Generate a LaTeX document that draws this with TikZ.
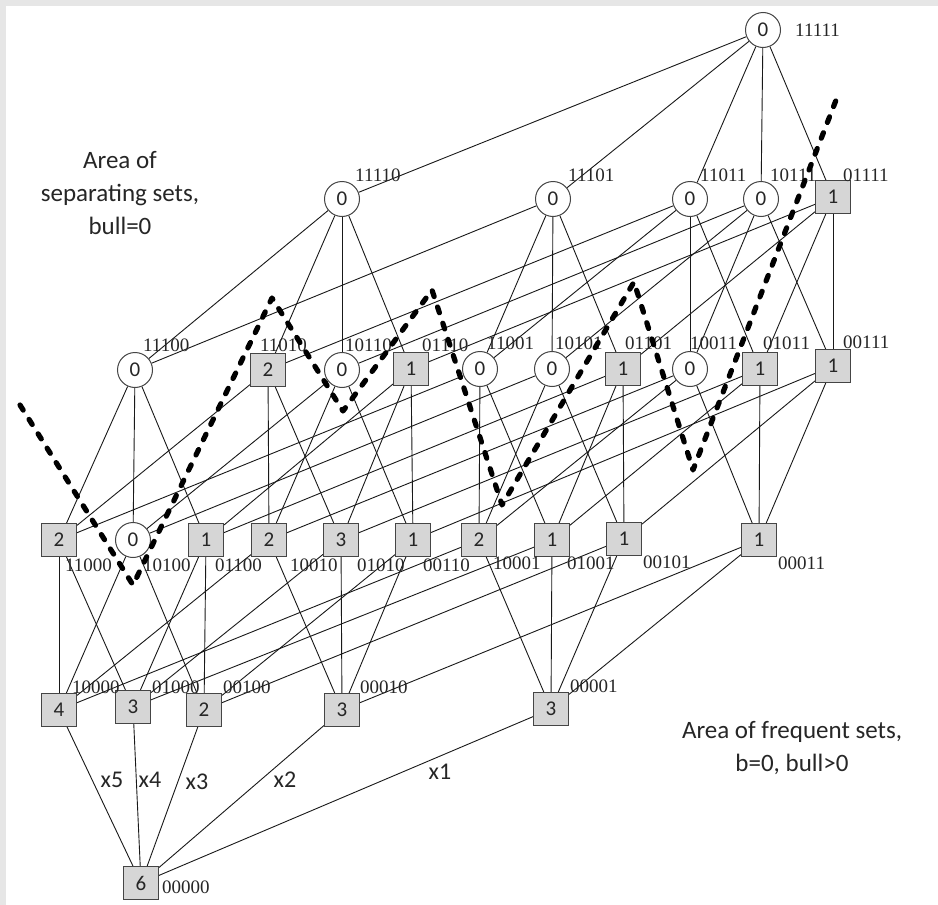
\documentclass[tikz,border=0pt]{standalone}
\usepackage{fontspec}
\setmainfont{Carlito}
\newfontfamily\bitfont{Liberation Serif}
\pgfdeclarelayer{bg}
\pgfdeclarelayer{paper}
\pgfsetlayers{paper,bg,main}
\definecolor{boxfill}{HTML}{D6D6D6}
\definecolor{nodeline}{HTML}{454545}
\definecolor{frame}{HTML}{E6E6E6}
\definecolor{txt}{HTML}{262626}
\tikzset{
  circnode/.style={circle, minimum size=35pt, inner sep=0pt, draw=nodeline, line width=1pt, fill=white, font=\fontsize{21}{21}\selectfont, text=txt},
  boxnode/.style={rectangle, minimum width=35pt, minimum height=33pt, inner sep=0pt, draw=nodeline, line width=1pt, fill=boxfill, font=\fontsize{21}{21}\selectfont, text=txt},
  bitlabel/.style={anchor=west, inner sep=0pt, font=\bitfont\fontsize{19}{19}\selectfont, text=txt},
  edgeline/.style={line width=0.9pt, draw=black!90},
  sepline/.style={line width=5.2pt, dash pattern=on 6pt off 11pt, line cap=round, line join=round},
  xlab/.style={font=\fontsize{24}{24}\selectfont, text=txt, inner sep=0pt},
  areatext/.style={align=center, font=\fontsize{25}{33}\selectfont, text=txt, inner sep=0pt}
}
\begin{document}
\begin{tikzpicture}[x=1pt,y=-1pt]
\useasboundingbox (0,0) rectangle (938,905);
\begin{pgfonlayer}{paper}
\fill[frame] (0,0) rectangle (938,905);
\fill[white] (6,6) rectangle (938,905);
\end{pgfonlayer}
% level 5
\node[circnode] (n11111) at (763,30) {0};
% level 4
\node[circnode] (n11110) at (342,199) {0};
\node[circnode] (n11101) at (553,199) {0};
\node[circnode] (n11011) at (690,199) {0};
\node[circnode] (n10111) at (761,199) {0};
\node[boxnode]  (n01111) at (833,197) {1};
% level 3
\node[circnode] (n11100) at (135,370) {0};
\node[boxnode]  (n11010) at (268,370) {2};
\node[circnode] (n10110) at (342,370) {0};
\node[boxnode]  (n01110) at (411,369) {1};
\node[circnode] (n11001) at (480,369) {0};
\node[circnode] (n10101) at (552,369) {0};
\node[boxnode]  (n01101) at (623,369) {1};
\node[circnode] (n10011) at (690,369) {0};
\node[boxnode]  (n01011) at (760,369) {1};
\node[boxnode]  (n00111) at (833,366) {1};
% level 2
\node[boxnode]  (n11000) at (59,540) {2};
\node[circnode] (n10100) at (133,540) {0};
\node[boxnode]  (n01100) at (206,540) {1};
\node[boxnode]  (n10010) at (269,540) {2};
\node[boxnode]  (n01010) at (341,540) {3};
\node[boxnode]  (n00110) at (413,540) {1};
\node[boxnode]  (n10001) at (479,540) {2};
\node[boxnode]  (n01001) at (552,540) {1};
\node[boxnode]  (n00101) at (624,539) {1};
\node[boxnode]  (n00011) at (759,540) {1};
% level 1
\node[boxnode]  (n10000) at (59,710) {4};
\node[boxnode]  (n01000) at (133,707) {3};
\node[boxnode]  (n00100) at (204,710) {2};
\node[boxnode]  (n00010) at (342,710) {3};
\node[boxnode]  (n00001) at (551,709) {3};
% level 0
\node[boxnode]  (n00000) at (141,883) {6};
% edges
\begin{pgfonlayer}{bg}
\foreach \a/\b in {11111/11110,11111/11101,11111/11011,11111/10111,11111/01111,
  11110/11100,11110/11010,11110/10110,11110/01110,
  11101/11100,11101/11001,11101/10101,11101/01101,
  11011/11010,11011/11001,11011/10011,11011/01011,
  10111/10110,10111/10101,10111/10011,10111/00111,
  01111/01110,01111/01101,01111/01011,01111/00111,
  11100/11000,11100/10100,11100/01100,
  11010/11000,11010/10010,11010/01010,
  10110/10100,10110/10010,10110/00110,
  01110/01100,01110/01010,01110/00110,
  11001/11000,11001/10001,11001/01001,
  10101/10100,10101/10001,10101/00101,
  01101/01100,01101/01001,01101/00101,
  10011/10010,10011/10001,10011/00011,
  01011/01010,01011/01001,01011/00011,
  00111/00110,00111/00101,00111/00011,
  11000/10000,11000/01000,
  10100/10000,10100/00100,
  01100/01000,01100/00100,
  10010/10000,10010/00010,
  01010/01000,01010/00010,
  00110/00100,00110/00010,
  10001/10000,10001/00001,
  01001/01000,01001/00001,
  00101/00100,00101/00001,
  00011/00010,00011/00001,
  10000/00000,01000/00000,00100/00000,00010/00000,00001/00000}
  \draw[edgeline] (n\a) -- (n\b);
\end{pgfonlayer}
% bit labels
\node[bitlabel] (l11111) at (795,30) {11111};
\node[bitlabel] (l11110) at (355,175) {11110};
\node[bitlabel] (l11101) at (568,175) {11101};
\node[bitlabel] (l11011) at (700,175) {11011};
\node[bitlabel] (l10111) at (770,175) {10111};
\node[bitlabel] (l01111) at (843,175) {01111};
\node[bitlabel] (l11100) at (143,345) {11100};
\node[bitlabel] (l11010) at (260,345) {11010};
\node[bitlabel] (l10110) at (345,345) {10110};
\node[bitlabel] (l01110) at (422,345) {01110};
\node[bitlabel] (l11001) at (487,343) {11001};
\node[bitlabel] (l10101) at (555,343) {10101};
\node[bitlabel] (l01101) at (625,343) {01101};
\node[bitlabel] (l10011) at (690,343) {10011};
\node[bitlabel] (l01011) at (763,343) {01011};
\node[bitlabel] (l00111) at (843,342) {00111};
\node[bitlabel] (l11000) at (65,565) {11000};
\node[bitlabel] (l10100) at (143,565) {10100};
\node[bitlabel] (l01100) at (215,565) {01100};
\node[bitlabel] (l10010) at (290,565) {10010};
\node[bitlabel] (l01010) at (357,565) {01010};
\node[bitlabel] (l00110) at (423,565) {00110};
\node[bitlabel] (l10001) at (493,563) {10001};
\node[bitlabel] (l01001) at (567,563) {01001};
\node[bitlabel] (l00101) at (643,562) {00101};
\node[bitlabel] (l00011) at (778,563) {00011};
\node[bitlabel] (l10000) at (72,687) {10000};
\node[bitlabel] (l01000) at (152,687) {01000};
\node[bitlabel] (l00100) at (223,687) {00100};
\node[bitlabel] (l00010) at (360,687) {00010};
\node[bitlabel] (l00001) at (570,686) {00001};
\node[bitlabel] (l00000) at (162,887) {00000};
% x labels
\node[xlab] (x5) at (112,780) {x5};
\node[xlab] (x4) at (150,780) {x4};
\node[xlab] (x3) at (197,782) {x3};
\node[xlab] (x2) at (285,780) {x2};
\node[xlab] (x1) at (440,772) {x1};
% area texts
\node[areatext] (sepText) at (120,193) {Area of\\separating sets,\\bull=0};
\node[areatext] (freqText) at (792,748) {Area of frequent sets,\\b=0, bull>0};
% separating border
\coordinate (s0) at (20,405);
\coordinate (s1) at (133,585);
\coordinate (s2) at (272,298);
\coordinate (s3) at (343,411);
\coordinate (s4) at (432,290);
\coordinate (s5) at (502,505);
\coordinate (s6) at (634,282);
\coordinate (s7) at (693,470);
\coordinate (s8) at (838,95);
\draw[sepline] (s0) -- (s1) -- (s2) -- (s3) -- (s4) -- (s5) -- (s6) -- (s7) -- (s8);
\end{tikzpicture}
\end{document}
